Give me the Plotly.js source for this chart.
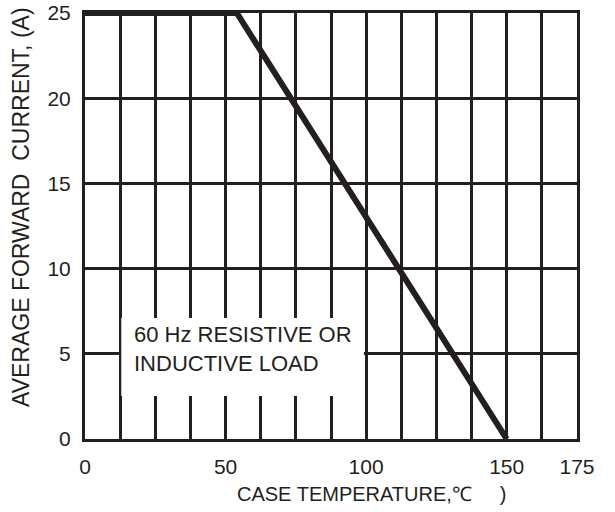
<!DOCTYPE html>
<html>
<head>
<meta charset="utf-8">
<script src="https://cdn.plot.ly/plotly-3.0.1.min.js"></script>
<style>
html,body{margin:0;padding:0;background:#fff;}
#chart{width:615px;height:512px;}
</style>
</head>
<body>
<div id="chart"></div>
<script>
// ---- data ----
const caseTempC = [0, 54, 150];
const avgCurrentA = [25, 25, 0];

const xTickVals = [0, 12.5, 25, 37.5, 50, 62.5, 75, 87.5, 100, 112.5, 125, 137.5, 150, 162.5, 175];
const xTickText = ['0', '', '', '', '50', '', '', '', '100', '', '', '', '150', '', '175'];
const yTickVals = [0, 5, 10, 15, 20, 25];
const yTickText = ['0', '5', '10', '15', '20', '25'];

const xTitle = 'CASE TEMPERATURE,\u2103\u00a0\u00a0\u00a0\u00a0\u00a0)';
const yTitle = 'AVERAGE FORWARD\u00a0\u00a0CURRENT, (A)';
const noteText = '60 Hz RESISTIVE OR<br>INDUCTIVE LOAD';

const ink = '#231f20';
const fontFam = 'Arial, "Liberation Sans", Helvetica, sans-serif';

const trace = {
  x: caseTempC,
  y: avgCurrentA,
  type: 'scatter',
  mode: 'lines',
  line: {color: ink, width: 6},
  cliponaxis: false,
  hoverinfo: 'skip'
};

const layout = {
  width: 615,
  height: 512,
  margin: {l: 85, r: 38, t: 13, b: 73},
  paper_bgcolor: '#fff',
  plot_bgcolor: '#fff',
  showlegend: false,
  font: {family: fontFam, color: ink, size: 21},
  xaxis: {
    range: [0, 175],
    tickmode: 'array',
    tickvals: xTickVals,
    ticktext: xTickText,
    showgrid: true,
    gridcolor: ink,
    gridwidth: 3,
    zeroline: false,
    showline: true,
    linecolor: ink,
    linewidth: 3,
    mirror: true,
    ticks: '',
    ticklabelstandoff: 7,
    tickfont: {size: 21, color: ink, family: fontFam},
    fixedrange: true
  },
  yaxis: {
    range: [0, 25],
    tickmode: 'array',
    tickvals: yTickVals,
    ticktext: yTickText,
    showgrid: true,
    gridcolor: ink,
    gridwidth: 3,
    zeroline: false,
    showline: true,
    linecolor: ink,
    linewidth: 3,
    mirror: true,
    ticks: '',
    ticklabelstandoff: 7,
    tickfont: {size: 21, color: ink, family: fontFam},
    fixedrange: true
  },
  shapes: [
    {
      type: 'rect', xref: 'x', yref: 'y', layer: 'between',
      x0: 12.9, x1: 99.2, y0: 2.52, y1: 7.1,
      fillcolor: '#fff', line: {width: 0}
    }
  ],
  annotations: [
    {
      text: noteText, xref: 'paper', yref: 'paper',
      x: (132 - 85) / 492, y: (439 - 320) / 426,
      xanchor: 'left', yanchor: 'top', align: 'left', showarrow: false,
      font: {size: 22, color: ink, family: fontFam}
    },
    {
      text: xTitle, xref: 'paper', yref: 'paper',
      x: (235 - 85) / 492, y: -(494 - 439) / 426,
      xanchor: 'left', yanchor: 'middle', showarrow: false,
      font: {size: 20, color: ink, family: fontFam}
    },
    {
      text: yTitle, xref: 'paper', yref: 'paper',
      x: -(85 - 21) / 492, y: (439 - 207) / 426,
      xanchor: 'center', yanchor: 'middle', showarrow: false, textangle: -90,
      font: {size: 23, color: ink, family: fontFam}
    }
  ]
};

Plotly.newPlot('chart', [trace], layout, {staticPlot: true, displayModeBar: false});
</script>
</body>
</html>
